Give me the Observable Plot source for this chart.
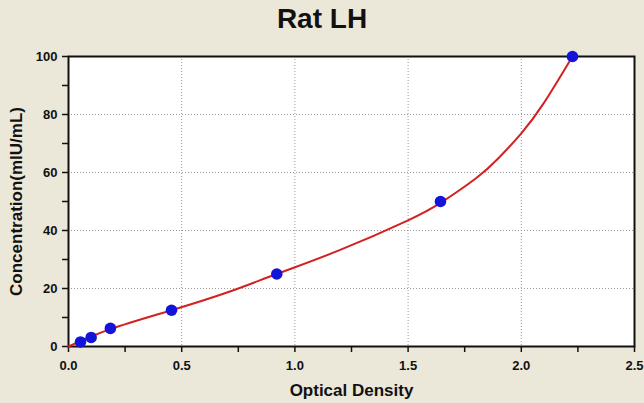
<!DOCTYPE html>
<html><head><meta charset="utf-8">
<script src="https://cdn.jsdelivr.net/npm/d3@7"></script>
<script src="https://cdn.jsdelivr.net/npm/@observablehq/plot@0.6"></script>
<style>
html,body{margin:0;padding:0;background:#ebe7d9;}
#wrap{width:644px;height:403px;position:relative;overflow:hidden;font-family:"Liberation Sans",Arial,sans-serif;}
#title{height:35px;line-height:37px;text-align:center;font-size:28px;font-weight:bold;color:#111;}
</style></head>
<body><div id="wrap"><div id="title"></div><div id="chart"></div></div>
<script>
const titleText = "Rat LH";
const xLabel = "Optical Density";
const yLabel = "Concentration(mIU/mL)";
// standard points
const od = [0.053, 0.10, 0.185, 0.455, 0.92, 1.643, 2.226];
const conc = [1.56, 3.12, 6.25, 12.5, 25, 50, 100];
// fitted curve
const curveOd = [0, 0.185, 0.455, 0.70, 0.92, 1.2, 1.5, 1.643, 1.8, 1.9, 2.0, 2.1, 2.226];
const curveConc = [0, 6.0, 12.5, 18.6, 25, 33.3, 43.5, 49.5, 58, 65, 73.5, 84, 100];
const xTicks = [0, 0.5, 1.0, 1.5, 2.0, 2.5];
const xMinor = [0.25, 0.75, 1.25, 1.75, 2.25];
const yTicks = [0, 20, 40, 60, 80, 100];
const yMinor = [10, 30, 50, 70, 90];

document.getElementById("title").textContent = titleText;
const pts = od.map((x, i) => ({x, y: conc[i]}));
const curve = curveOd.map((x, i) => ({x, y: curveConc[i]}));

const chart = Plot.plot({
  width: 644, height: 368,
  marginLeft: 68, marginRight: 10, marginTop: 21, marginBottom: 57,
  style: {fontFamily: '"Liberation Sans", Arial, sans-serif', fontSize: "13px", fontWeight: "bold", background: "transparent", color: "#111"},
  x: {domain: [0, 2.5]},
  y: {domain: [0, 100]},
  marks: [
    Plot.frame({fill: "white", stroke: "none"}),
    Plot.gridX(xTicks.slice(1, -1), {stroke: "#999", strokeOpacity: 1, strokeDasharray: "1,2"}),
    Plot.gridY(yTicks.slice(1, -1), {stroke: "#999", strokeOpacity: 1, strokeDasharray: "1,2"}),
    Plot.frame({stroke: "#111", strokeWidth: 2}),
    Plot.axisX(xTicks, {tickSize: 6, tickPadding: 8, tickFormat: d => d.toFixed(1), label: null, strokeWidth: 1.5}),
    Plot.axisX(xMinor, {tickSize: 6, tickFormat: () => "", label: null, strokeWidth: 1.5}),
    Plot.axisY(yTicks, {tickSize: 6, tickPadding: 5, label: null, strokeWidth: 1.5}),
    Plot.axisY(yMinor, {tickSize: 6, tickFormat: () => "", label: null, strokeWidth: 1.5}),
    Plot.line(curve, {x: "x", y: "y", stroke: "#d42020", strokeWidth: 2, curve: "natural"}),
    Plot.dot(pts, {x: "x", y: "y", r: 5.8, fill: "#1414d8", stroke: "none"}),
    Plot.text([xLabel], {frameAnchor: "bottom", dy: 44, lineAnchor: "middle", textAnchor: "middle", text: d => d, fontSize: 17, fontWeight: "bold"}),
    Plot.text([yLabel], {frameAnchor: "left", dx: -52, rotate: -90, lineAnchor: "middle", textAnchor: "middle", text: d => d, fontSize: 17, fontWeight: "bold"})
  ]
});
document.getElementById("chart").appendChild(chart);
</script></body></html>
